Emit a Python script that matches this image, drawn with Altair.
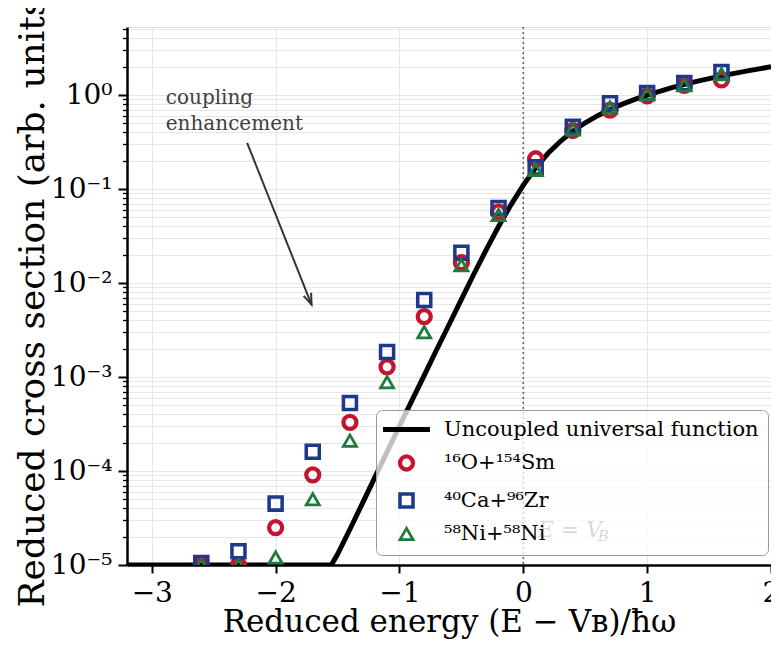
import altair as alt
import pandas as pd

# ---------------- data ----------------
energy = [-2.6, -2.3, -2.0, -1.7, -1.4, -1.1, -0.8, -0.5, -0.2, 0.1, 0.4, 0.7, 1.0, 1.3, 1.6]
o_sm = [1.0e-5, 1.0e-5, 2.5e-5, 9.1e-5, 3.3e-4, 1.28e-3, 4.4e-3, 1.65e-2, 5.7e-2, 0.21, 0.42, 0.69, 0.98, 1.27, 1.45]
ca_zr = [1.05e-5, 1.4e-5, 4.5e-5, 1.6e-4, 5.3e-4, 1.85e-3, 6.6e-3, 2.1e-2, 6.3e-2, 0.17, 0.46, 0.82, 1.05, 1.34, 1.76]
ni_ni = [1.0e-5, 1.0e-5, 1.2e-5, 5.0e-5, 2.1e-4, 8.8e-4, 3.0e-3, 1.55e-2, 5.3e-2, 0.16, 0.43, 0.74, 1.02, 1.27, 1.67]

curve_x = [-3.2, -1.55, -1.5, -1.4, -1.3, -1.2, -1.1, -1.0, -0.9, -0.8, -0.7, -0.6, -0.5,
           -0.4, -0.3, -0.2, -0.1, 0.0, 0.1, 0.2, 0.3, 0.4, 0.5, 0.6, 0.7, 0.8, 0.9,
           1.0, 1.2, 1.4, 1.6, 1.8, 2.0]
curve_y = [1.0e-5, 1.0e-5, 1.3e-5, 2.4e-5, 4.5e-5, 8.5e-5, 1.6e-4, 3.0e-4, 5.6e-4, 1.04e-3,
           1.95e-3, 3.6e-3, 6.7e-3, 1.24e-2, 2.25e-2, 3.99e-2, 6.8e-2, 0.110, 0.168, 0.240,
           0.3225, 0.413, 0.507, 0.604, 0.702, 0.801, 0.900, 1.0, 1.2, 1.4, 1.6, 1.8, 2.0]

series_names = ["Uncoupled universal function", "¹⁶O+¹⁵⁴Sm", "⁴⁰Ca+⁹⁶Zr", "⁵⁸Ni+⁵⁸Ni"]
series_colors = ["#000000", "#c4142f", "#1d3a8a", "#1f7a3c"]
series_shapes = ["M-3.6,0L3.6,0", "circle", "square", "triangle-up"]
series_widths = [5, 2.8, 2.8, 2.8]

x_ticks = [-3, -2, -1, 0, 1, 2]
y_ticks = [m * 10.0 ** e for e in range(-5, 1) for m in range(1, 10) if m * 10.0 ** e <= 5.3]
y_tick_labels = ["10⁻⁵", "10⁻⁴", "10⁻³", "10⁻²", "10⁻¹", "10⁰"]

barrier_x = [0.0]
note_x = [-2.887]
note_y = [0.80]
note_text = ["coupling\nenhancement"]
arrow_x = [-2.23]
arrow_y = [0.31]
arrow_x2 = [-1.71]
arrow_y2 = [5.9e-3]
eb_x = [0.117]
eb_y = [2.35e-5]

FONT = "DejaVu Serif"

# ---------------- tables ----------------
curve_df = pd.DataFrame({"x": curve_x, "y": curve_y, "series": series_names[0]})
pts_df = pd.concat([
    pd.DataFrame({"x": energy, "y": o_sm, "series": series_names[1]}),
    pd.DataFrame({"x": energy, "y": ca_zr, "series": series_names[2]}),
    pd.DataFrame({"x": energy, "y": ni_ni, "series": series_names[3]}),
], ignore_index=True)
vline_df = pd.DataFrame({"x": barrier_x})
note_df = pd.DataFrame({"x": note_x, "y": note_y, "t": note_text})
arrow_df = pd.DataFrame({"x": arrow_x, "y": arrow_y, "x2": arrow_x2, "y2": arrow_y2})
eb_df = pd.DataFrame({"x": eb_x, "y": eb_y})

# ---------------- scales / axes ----------------
xscale = alt.Scale(domain=[-3.2, 2.0], nice=False, zero=False)
yscale = alt.Scale(type="log", domain=[1e-5, 5.3], nice=False)

is_major = "abs(log(datum.value)/LN10 - round(log(datum.value)/LN10)) < 0.001"

xaxis = alt.Axis(
    values=x_ticks, grid=True, gridColor="#e4e4e4", gridWidth=0.9,
    tickSize=8, tickWidth=2, tickColor="black",
    domainColor="black", domainWidth=2.5,
    labelFont=FONT, labelFontSize=28, labelColor="black", labelPadding=6,
    labelFlush=False, labelOverlap=False, labelBound=False,
    title="Reduced energy (E − Vʙ)/ħω", titleFont=FONT, titleFontSize=31,
    titleFontWeight="normal", titleColor="black", titleBaseline="alphabetic",
    titleY=66,
)
yaxis = alt.Axis(
    values=y_ticks, grid=True, gridColor="#e4e4e4", gridWidth=0.9,
    tickSize={"condition": {"test": is_major, "value": 9}, "value": 4.5},
    tickWidth={"condition": {"test": is_major, "value": 2}, "value": 1.3},
    tickColor="black",
    labelExpr=f"{is_major} ? {y_tick_labels}[round(log(datum.value)/LN10)+5] : ''",
    domainColor="black", domainWidth=2.5,
    labelFont=FONT, labelFontSize=28, labelColor="black", labelPadding=6,
    title="Reduced cross section (arb. units)", titleFont=FONT, titleFontSize=36,
    titleFontWeight="normal", titleColor="black",
    titleAngle=270, titleAlign="left", titleBaseline="alphabetic",
    titleX=-84, titleY=580,
)

X = alt.X("x:Q", scale=xscale, axis=xaxis)
Y = alt.Y("y:Q", scale=yscale, axis=yaxis)

legend = alt.Legend(
    title=None, orient="none", legendX=249, legendY=383,
    labelFont=FONT, labelFontSize=21, labelColor="black", labelLimit=500,
    symbolSize=170, symbolOffset=11, labelOffset=27, rowPadding=7.5,
    padding=9, fillColor="rgba(255,255,255,0.75)", strokeColor="#999999",
    cornerRadius=6, symbolFillColor="transparent",
)

color = alt.Color("series:N", scale=alt.Scale(domain=series_names, range=series_colors), legend=legend)
shape = alt.Shape("series:N", scale=alt.Scale(domain=series_names, range=series_shapes), legend=legend)
swidth = alt.StrokeWidth("series:N", scale=alt.Scale(domain=series_names, range=series_widths), legend=legend)

# ---------------- layers ----------------
vline = alt.Chart(vline_df).mark_rule(color="#666666", strokeDash=[2, 3], strokeWidth=1.6).encode(x=X)

curve = alt.Chart(curve_df).mark_line(clip=True, strokeCap="butt").encode(
    x=X, y=Y, color=color, strokeWidth=swidth)

points = alt.Chart(pts_df).mark_point(filled=False, size=170, clip=True, opacity=1).encode(
    x=X, y=Y, color=color, shape=shape, strokeWidth=swidth)

note = alt.Chart(note_df).mark_text(
    align="left", baseline="alphabetic", lineBreak="\n", lineHeight=26,
    font=FONT, fontSize=20, color="#404040").encode(x=X, y=Y, text="t:N")

arrow = alt.Chart(arrow_df).mark_rule(color="#333333", strokeWidth=2).encode(
    x=X, y=Y, x2="x2:Q", y2="y2:Q")
head = alt.Chart(arrow_df).mark_point(
    shape="M-0.8,2.2L0,0L0.8,2.2", size=100, filled=False, angle=158,
    color="#333333", strokeWidth=2, opacity=1).encode(
    x=alt.X("x2:Q", scale=xscale, axis=xaxis), y=alt.Y("y2:Q", scale=yscale, axis=yaxis))

eb1 = alt.Chart(eb_df).mark_text(
    align="left", baseline="middle", font=FONT, fontSize=22, fontStyle="italic",
    color="#666666", text="E = V").encode(x=X, y=Y)
eb2 = alt.Chart(eb_df).mark_text(
    align="left", baseline="middle", font=FONT, fontSize=15, fontStyle="italic",
    color="#666666", text="B", dx=60, dy=6).encode(x=X, y=Y)

chart = alt.layer(vline, curve, points, note, arrow, head, eb1, eb2).properties(
    width=644, height=538,
    autosize=alt.AutoSizeParams(type="none"),
    padding={"left": 119, "top": 19, "right": 0, "bottom": 75},
).configure_view(stroke="black", strokeWidth=2.5).configure(background="white")

chart.save("out.html", embed_options={"renderer": "svg", "actions": False})
